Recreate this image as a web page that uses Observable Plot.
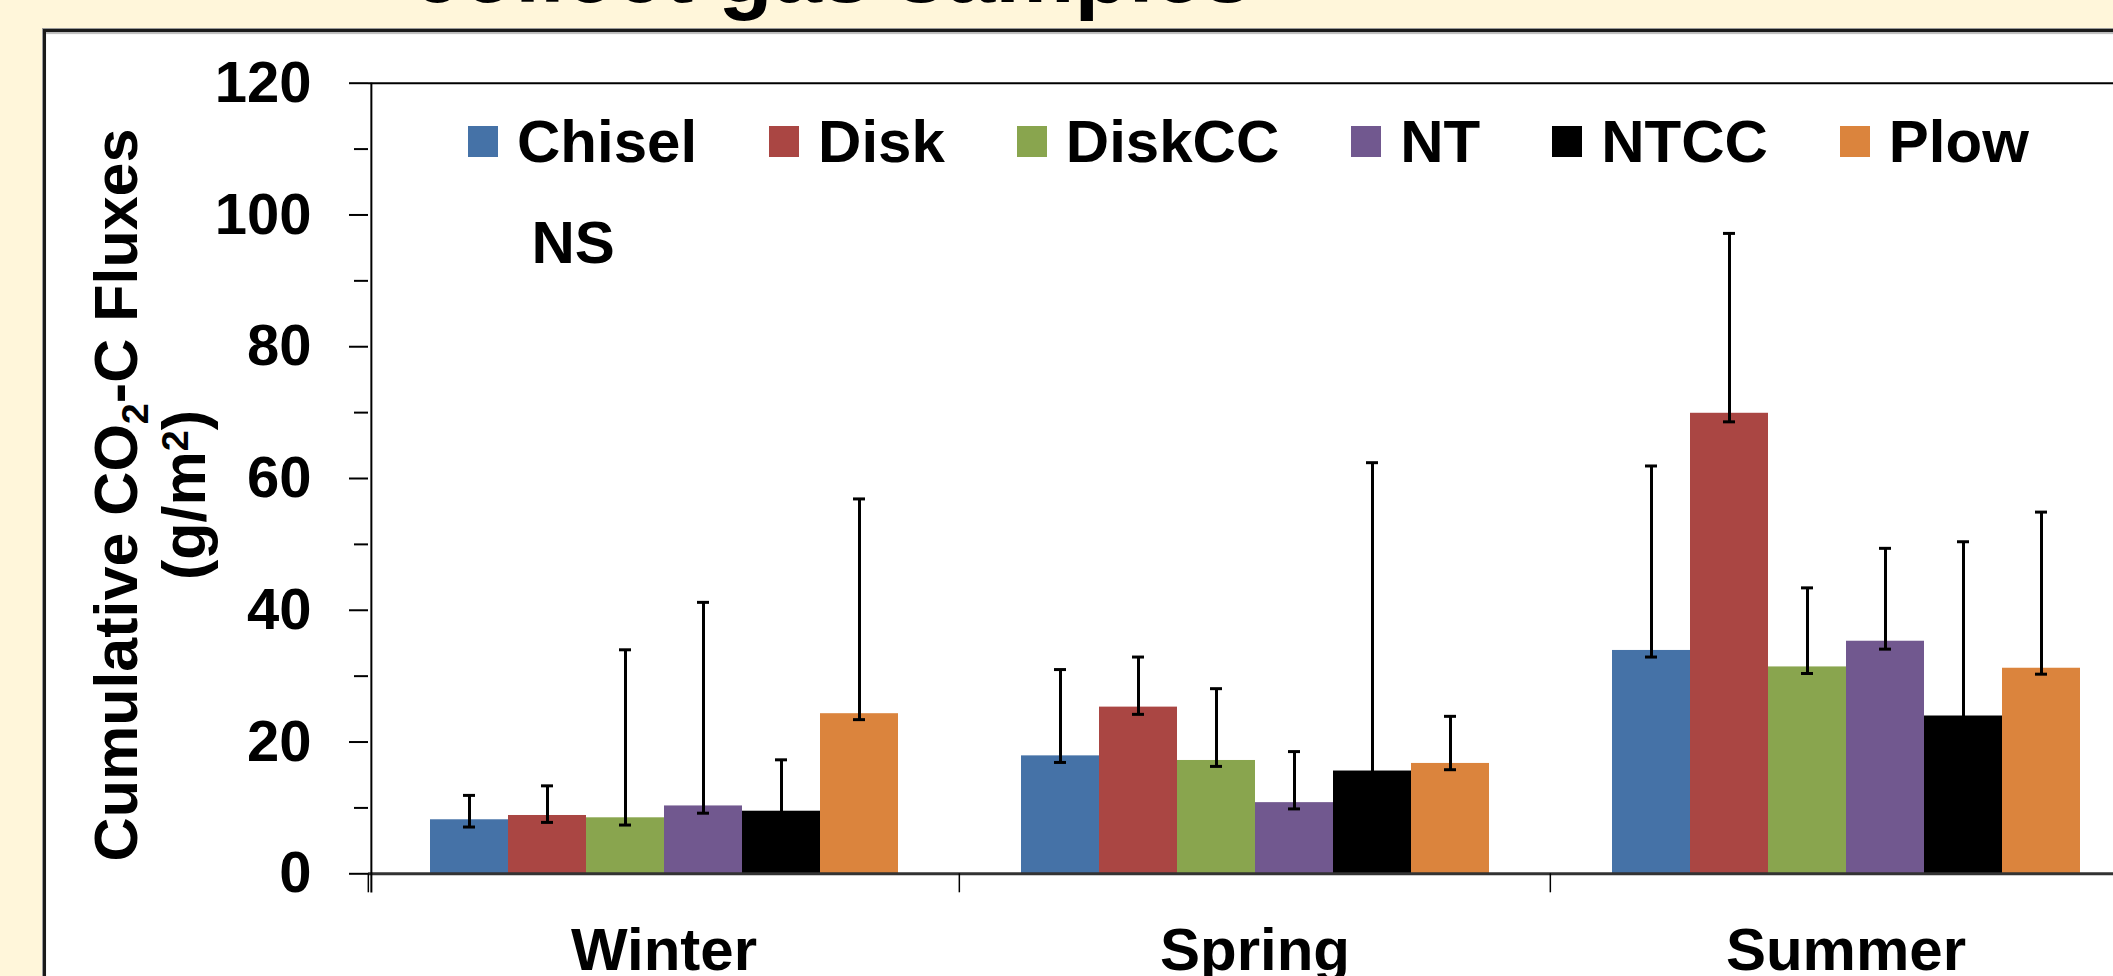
<!DOCTYPE html>
<html>
<head>
<meta charset="utf-8">
<script src="https://cdn.jsdelivr.net/npm/d3@7"></script>
<script src="https://cdn.jsdelivr.net/npm/@observablehq/plot@0.6"></script>
<style>
html, body { margin:0; padding:0; width:2113px; height:976px; overflow:hidden; background:#FFF6DA; font-family:"Liberation Sans", Arial, sans-serif; }
#title { position:absolute; left:0; width:1664px; top:-80px; text-align:center; font:bold 89px "Liberation Sans", Arial, sans-serif; color:#000; white-space:nowrap; }
#panel { position:absolute; left:43px; top:29px; width:2200px; height:1000px; background:#fff; border-left:3px solid #1a1a1a; border-top:3px solid #1a1a1a; box-shadow:-1px -1px 0 #9a9a9a, 0 2px 1px #bbb inset; }
#chart { position:absolute; left:0; top:0; }
#ylab { position:absolute; left:150px; top:495px; transform:translate(-50%,-50%) rotate(-90deg); font:bold 61px "Liberation Sans", Arial, sans-serif; line-height:68px; text-align:center; white-space:nowrap; color:#000; }
#ylab .sub { font-size:0.62em; position:relative; top:0.3em; line-height:0; }
#ylab .sup { font-size:0.62em; position:relative; top:-0.45em; line-height:0; }
#legend { position:absolute; left:468px; top:107px; width:1700px; }
#legend .lg-swatches, #legend div[class$="-swatches-wrap"] { font:bold 60px "Liberation Sans", Arial, sans-serif !important; margin:0 !important; color:#000; }
#legend .lg-swatch, #legend span[class$="-swatch"] { margin-right:72px !important; }
#legend .lg-swatch > svg, #legend span[class$="-swatch"] > svg { margin-right:19px !important; }
</style>
</head>
<body>
<div id="title">collect gas samples</div>
<div id="panel"></div>
<div id="chart"></div>
<div id="ylab"><div>Cumulative CO<span class="sub">2</span>-C Fluxes</div><div>(g/m<span class="sup">2</span>)</div></div>
<div id="legend"></div>
<script>
// ---- data ----
const seasons = ["Winter", "Spring", "Summer"];
const treatments = ["Chisel", "Disk", "DiskCC", "NT", "NTCC", "Plow"];
const colors = ["#4572A7", "#AA4643", "#89A54E", "#71588F", "#000000", "#DB843D"];

// mean cumulative flux per treatment, by season (Winter, Spring, Summer)
const chisel = [8.2, 17.9, 33.9];
const disk   = [8.85, 25.3, 69.9];
const diskCC = [8.5, 17.2, 31.4];
const nt     = [10.3, 10.8, 35.3];
const ntcc   = [9.5, 15.6, 23.95];
const plow   = [24.3, 16.75, 31.2];

// error bar low ends
const chiselLo = [7.1, 16.9, 32.9];
const diskLo   = [7.8, 24.2, 68.6];
const diskCCLo = [7.4, 16.3, 30.4];
const ntLo     = [9.2, 9.85, 34.1];
const ntccLo   = [8.5, 14.6, 23.0];
const plowLo   = [23.4, 15.8, 30.3];

// error bar high ends
const chiselHi = [11.9, 31.0, 61.9];
const diskHi   = [13.35, 32.9, 97.2];
const diskCCHi = [34.0, 28.1, 43.4];
const ntHi     = [41.2, 18.55, 49.4];
const ntccHi   = [17.3, 62.4, 50.4];
const plowHi   = [56.9, 23.9, 54.9];

const majorTicks = [0, 20, 40, 60, 80, 100, 120];
const minorTicks = [10, 30, 50, 70, 90, 110];
const annotation = "NS";

// ---- table ----
const means = [chisel, disk, diskCC, nt, ntcc, plow];
const lows = [chiselLo, diskLo, diskCCLo, ntLo, ntccLo, plowLo];
const highs = [chiselHi, diskHi, diskCCHi, ntHi, ntccHi, plowHi];
const rows = [];
treatments.forEach((t, j) => seasons.forEach((s, i) => rows.push({season: s, treatment: t, value: means[j][i], lo: lows[j][i], hi: highs[j][i]})));

// ---- layout ----
const W = 2141, H = 976, ML = 367, MT = 82.7, MB = 976 - 873.3;
const PO = 0.742;
const facetW = (W - ML) / 3;
const step = facetW / (treatments.length + 2 * PO);
const capW = 13;
const capInset = (step - capW) / 2;
const firstCenter = (PO + 0.5) * step;

const chart = Plot.plot({
  width: W, height: H,
  marginLeft: ML, marginRight: 0, marginTop: MT, marginBottom: MB,
  style: {background: "transparent", maxWidth: "none", overflow: "visible", color: "#000", fontFamily: "'Liberation Sans', Arial, sans-serif"},
  fx: {domain: seasons, paddingInner: 0, paddingOuter: 0},
  x: {domain: treatments, paddingInner: 0, paddingOuter: PO, axis: null},
  y: {domain: [0, 120]},
  color: {domain: treatments, range: colors},
  marks: [
    Plot.barY(rows, {fx: "season", x: "treatment", y: "value", fill: "treatment"}),
    Plot.ruleX(rows, {fx: "season", x: "treatment", y1: "lo", y2: "hi", stroke: "#000", strokeWidth: 3}),
    Plot.tickY(rows, {fx: "season", x: "treatment", y: "lo", stroke: "#000", strokeWidth: 3, insetLeft: capInset, insetRight: capInset}),
    Plot.tickY(rows, {fx: "season", x: "treatment", y: "hi", stroke: "#000", strokeWidth: 3, insetLeft: capInset, insetRight: capInset}),
    Plot.ruleY([0], {stroke: "#333", strokeWidth: 3}),
    Plot.ruleY([120], {stroke: "#000", strokeWidth: 2}),
    Plot.axisY({ticks: majorTicks, tickSize: 19, tickPadding: 38, fontSize: 58, fontWeight: "bold", label: null, strokeWidth: 2}),
    Plot.axisY({ticks: minorTicks, tickSize: 14, tickFormat: () => "", label: null, strokeWidth: 2}),
    Plot.ruleX([{season: seasons[0]}], {fx: "season", x: () => treatments[0], y1: -2.9, y2: 120, dx: -firstCenter, stroke: "#000", strokeWidth: 2}),
    Plot.axisFx({anchor: "bottom", tickSize: 0, tickPadding: 54, fontSize: 60, fontWeight: "bold", label: null}),
    Plot.axisFx({anchor: "bottom", tickSize: 19, tickFormat: () => "", dx: -facetW / 2, label: null, strokeWidth: 1.5}),
    Plot.text([{season: seasons[0], t: annotation}], {fx: "season", text: "t", frameAnchor: "top-left", textAnchor: "start", dx: 163, dy: 137, fontSize: 60, fontWeight: "bold", fill: "#000"})
  ]
});
document.getElementById("chart").appendChild(chart);

const legend = Plot.legend({
  color: {type: "ordinal", domain: treatments, range: colors},
  legend: "swatches",
  swatchWidth: 30, swatchHeight: 31,
  className: "lg"
});
document.getElementById("legend").appendChild(legend);
</script>
</body>
</html>
